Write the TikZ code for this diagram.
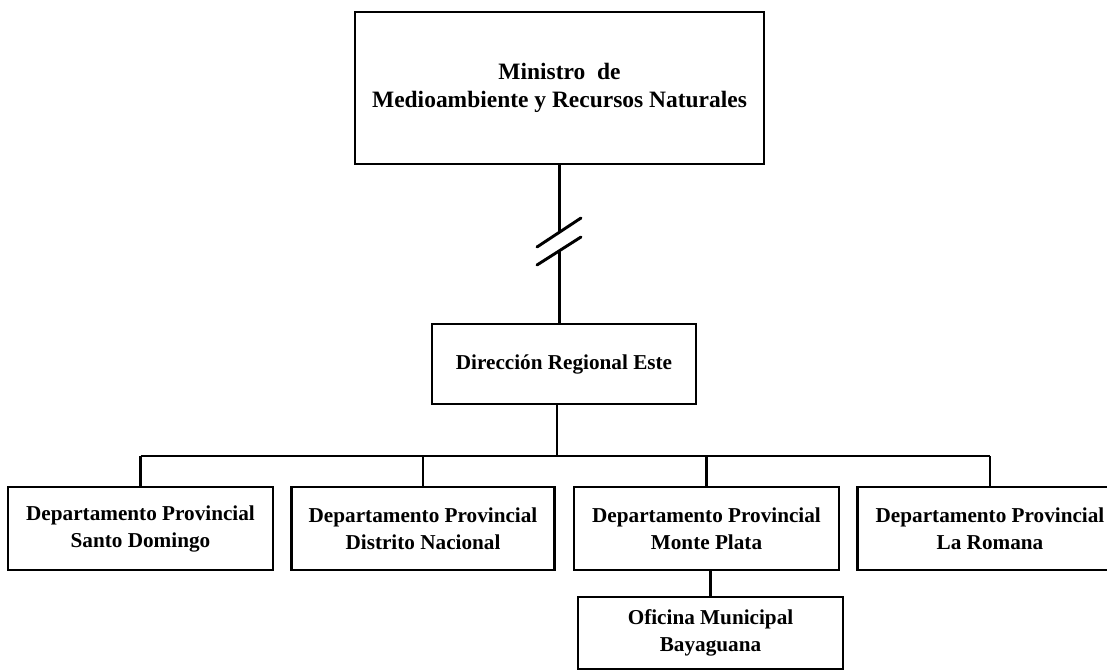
\documentclass[tikz,border=0pt]{standalone}
\usepackage{fontspec}
\setmainfont{Liberation Serif}
\begin{document}
\begin{tikzpicture}[x=0.75pt,y=-0.75pt,
  every node/.style={font=\bfseries\fontsize{15.9}{20.25}\selectfont, align=center, inner sep=0pt},
  orgbox/.style={draw, line width=2.2pt, minimum width=198.75pt, minimum height=62.25pt},
  conn/.style={line width=2.2pt}]
\useasboundingbox (0,0) rectangle (1107,671);
\clip (0,0) rectangle (1107,671);
\node[orgbox, minimum width=306.75pt, minimum height=114pt, font=\bfseries\fontsize{17.6}{21}\selectfont] (top) at (559.5,88) {Ministro\ \ de\\Medioambiente y Recursos Naturales};
\node[orgbox, minimum width=198pt, minimum height=60pt] (dir) at (564,364) {Dirección Regional Este};
\node[orgbox] (b1) at (140.5,528.5) {Departamento Provincial\\Santo Domingo};
\node[orgbox, minimum width=197pt] (b2) at (423,528.5) {Departamento Provincial\\Distrito Nacional};
\node[orgbox] (b3) at (706.5,528.5) {Departamento Provincial\\Monte Plata};
\node[orgbox] (b4) at (990,528.5) {Departamento Provincial\\La Romana};
\node[orgbox, minimum height=54pt] (of) at (710.5,633) {Oficina Municipal\\Bayaguana};
% broken connector
\coordinate (brkA) at (559.5,232);
\coordinate (brkB) at (559.5,250);
\coordinate (d1a) at (537,247);
\coordinate (d1b) at (581,218);
\coordinate (d2a) at (537,265);
\coordinate (d2b) at (581,237);
\draw[conn] (top.south) -- (brkA);
\draw[conn] (brkB) -- (dir.north -| top.south);
\draw[conn, line cap=round] (d1a) -- (d1b);
\draw[conn, line cap=round] (d2a) -- (d2b);
% bus
\coordinate (bus) at (557,456);
\draw[conn] (dir.south -| bus) -- (bus);
\draw[conn] (bus -| b1.north) -- (bus -| b4.north);
\foreach \b in {b1,b2,b3,b4}{
  \draw[conn] (bus -| \b.north) -- (\b.north);
}
\draw[conn] (b3.south -| of.north) -- (of.north);
\end{tikzpicture}
\end{document}
